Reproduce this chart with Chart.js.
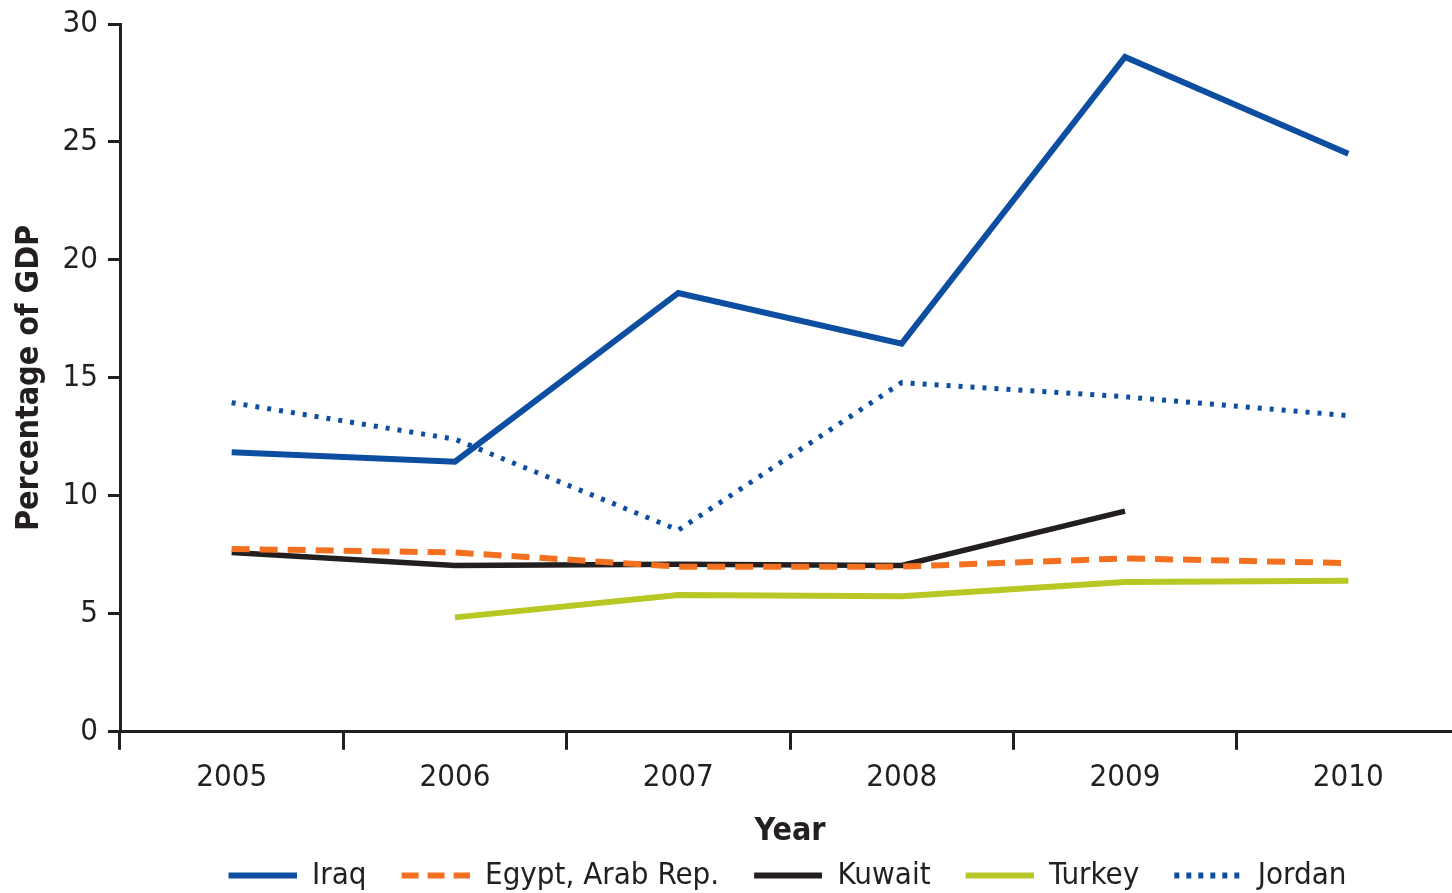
<!DOCTYPE html>
<html>
<head>
<meta charset="utf-8">
<script src="https://cdn.jsdelivr.net/npm/chart.js@4/dist/chart.umd.min.js"></script>
<style>
  html, body { margin: 0; padding: 0; background: #fff; overflow: hidden; }
  #wrap { width: 1460px; height: 893px; }
</style>
</head>
<body>
<div id="wrap"><canvas id="line-chart" width="1460" height="893"></canvas></div>
<script>
// values (percentage of GDP)
var years = ['2005', '2006', '2007', '2008', '2009', '2010'];
var iraq = [11.85, 11.45, 18.6, 16.45, 28.6, 24.5];
var egypt = [7.75, 7.6, 7.0, 7.0, 7.35, 7.15];
var kuwait = [7.6, 7.05, 7.1, 7.05, 9.35, null];
var turkey = [null, 4.85, 5.8, 5.75, 6.35, 6.4];
var jordan = [13.95, 12.4, 8.55, 14.8, 14.2, 13.4];
var yTicks = [0, 5, 10, 15, 20, 25, 30];

var ink = '#231F20';
var font = "'Liberation Sans Narrow', 'DejaVu Sans Condensed', sans-serif";

// legend swatches: a 68px line sample, with empty room on the left as the gap between items
var swatchGap = 23, swatchLen = 68;
function swatch(color, lw, dash) {
  var c = document.createElement('canvas');
  c.width = swatchGap + swatchLen;
  c.height = 10;
  var g = c.getContext('2d');
  g.strokeStyle = color;
  g.lineWidth = lw;
  g.setLineDash(dash || []);
  g.beginPath();
  g.moveTo(swatchGap, 5);
  g.lineTo(swatchGap + swatchLen, 5);
  g.stroke();
  return c;
}

// move the legend so it sits under the plot area, not under the canvas
var legendShift = {
  id: 'legendShift',
  afterLayout: function(chart) {
    chart.legend.left += 46;
    chart.legend.right += 46;
  }
};

new Chart(document.getElementById('line-chart'), {
  type: 'line',
  data: {
    labels: years,
    datasets: [
      { label: 'Iraq', data: iraq, borderColor: '#0D4EA1', borderWidth: 6,
        pointStyle: swatch('#0D4EA1', 6) },
      { label: 'Egypt, Arab Rep.', data: egypt, borderColor: '#F37021', borderWidth: 6, borderDash: [18, 10],
        pointStyle: swatch('#F37021', 6, [17, 9]) },
      { label: 'Kuwait', data: kuwait, borderColor: ink, borderWidth: 5.5,
        pointStyle: swatch(ink, 6) },
      { label: 'Turkey', data: turkey, borderColor: '#B7C824', borderWidth: 6,
        pointStyle: swatch('#B7C824', 6) },
      { label: 'Jordan', data: jordan, borderColor: '#0D4EA1', borderWidth: 5, borderDash: [4, 8],
        pointStyle: swatch('#0D4EA1', 6, [5, 7]) }
    ]
  },
  options: {
    responsive: false,
    animation: false,
    layout: { padding: { top: 24, right: 0, bottom: -8, left: 0 } },
    elements: {
      point: { radius: 0 },
      line: { tension: 0, borderCapStyle: 'butt', borderJoinStyle: 'miter' }
    },
    plugins: {
      legend: {
        position: 'bottom',
        labels: {
          usePointStyle: true,
          pointStyleWidth: swatchGap + swatchLen,
          padding: 12,
          color: ink,
          font: { family: font, size: 31 }
        }
      },
      tooltip: { enabled: false }
    },
    scales: {
      x: {
        type: 'category',
        offset: true,
        grid: { offset: true, drawOnChartArea: false, tickLength: 18, tickWidth: 3, color: ink },
        border: { color: ink, width: 3 },
        ticks: { color: ink, padding: 10, font: { family: font, size: 31 } },
        title: { display: true, text: 'Year', color: ink, padding: { top: 9, bottom: 0 },
                 font: { family: font, size: 32, weight: 'bold', lineHeight: 1 } }
      },
      y: {
        min: 0,
        max: 30,
        afterBuildTicks: function(scale) {
          scale.ticks = yTicks.map(function(v) { return { value: v }; });
        },
        afterFit: function(scale) {
          scale.width = 120;
          scale.paddingTop = 0;
        },
        grid: { drawOnChartArea: false, tickLength: 12, tickWidth: 3, color: ink },
        border: { color: ink, width: 3 },
        ticks: { color: ink, padding: 10, font: { family: font, size: 31 } },
        title: { display: true, text: 'Percentage of GDP', color: ink, padding: { top: 14, bottom: 0 },
                 font: { family: font, size: 32, weight: 'bold', lineHeight: 1 } }
      }
    }
  },
  plugins: [legendShift]
});
</script>
</body>
</html>
